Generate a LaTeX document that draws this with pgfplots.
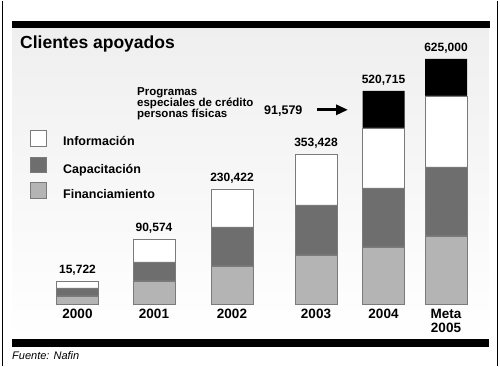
\documentclass[border=0pt]{standalone}
\usepackage{pgfplots}
\pgfplotsset{compat=1.18}
\usepackage{fontspec}
\setmainfont{Liberation Sans}
\usetikzlibrary{arrows.meta}
\definecolor{lightg}{HTML}{B4B4B4}
\definecolor{darkg}{HTML}{6E6E6E}
\definecolor{edgeg}{HTML}{7A7A7A}
\definecolor{panel}{HTML}{EFEFEF}
\pgfplotsset{base/.style={
  at={(0,62)}, anchor=origin,
  width=500pt, height=365pt, scale only axis,
  xmin=0, xmax=500, ymin=-62, ymax=303,
  clip=false}}
\begin{document}
\begin{tikzpicture}[x=1pt,y=1pt]
% background (1pt = 1px of the reference; y measured upward from picture bottom)
\fill[white] (0,0) rectangle (500,365);
\shade[top color=panel, middle color=panel, bottom color=white] (12,27) rectangle (489,338);
\fill[black] (12,338) rectangle (490,345);
\fill[black] (12,19) rectangle (489,27);
\draw[black, line width=1.6pt] (2.5,0) -- (2.5,365);
\draw[black, line width=1.6pt] (497.5,0) -- (497.5,365);
\begin{axis}[
  base,
  axis x line=middle, axis y line=none,
  axis line style={draw=none},
  tick style={draw=none},
  ytick=\empty,
  xtick={77.5,154,232,316,383.5,446},
  xticklabels={2000,2001,2002,2003,2004,{Meta\\2005}},
  xticklabel style={align=center, font=\fontsize{13.5}{14}\selectfont\bfseries, anchor=north, yshift=0pt},
  ybar stacked, bar width=42,
]
\addplot[fill=lightg, draw=edgeg] table {
x y
77.5 8
154 23
232 38
316 49
383.5 57
446 68
};
\addplot[fill=darkg, draw=edgeg] table {
x y
77.5 8
154 19
232 39
316 50
383.5 59
446 69
};
\addplot[fill=white, draw=edgeg] table {
x y
77.5 7
154 23
232 38
316 51
383.5 60
446 71
};
\addplot[fill=black, draw=none] table {
x y
77.5 0
154 0
232 0
316 0
383.5 37
446 37
};
\end{axis}
\begin{axis}[base, hide axis]
\addplot[draw=none, mark=none,
  point meta=explicit symbolic,
  nodes near coords,
  nodes near coords style={anchor=base, font=\fontsize{12}{12}\selectfont\bfseries, inner sep=0pt, yshift=7pt}]
  table[meta=label] {
x y label
77.5 23 15,722
154 65 90,574
232 115 230,422
316 150 353,428
383.5 213 520,715
446 245 625,000
};
\end{axis}
% texts and legend (pixel coordinates, y upward)
\node[anchor=base west, font=\fontsize{11}{11}\selectfont\itshape, inner sep=0pt] at (12,6) {Fuente: Nafin};
\node[anchor=base west, font=\fontsize{17.5}{17.5}\selectfont\bfseries, inner sep=0pt] at (20,317) {Clientes apoyados};
\draw[edgeg, fill=white] (30,220) rectangle (46,236);
\draw[edgeg, fill=darkg] (30,194) rectangle (46,209);
\draw[edgeg, fill=lightg] (30,168) rectangle (46,184);
\node[anchor=base west, font=\fontsize{12.5}{12.5}\selectfont\bfseries, inner sep=0pt] at (63,220) {Información};
\node[anchor=base west, font=\fontsize{12.5}{12.5}\selectfont\bfseries, inner sep=0pt] at (63,192) {Capacitación};
\node[anchor=base west, font=\fontsize{12.5}{12.5}\selectfont\bfseries, inner sep=0pt] at (63,167) {Financiamiento};
\node[anchor=base west, font=\fontsize{11.5}{11.5}\selectfont\bfseries, inner sep=0pt] at (137,270) {Programas};
\node[anchor=base west, font=\fontsize{11.5}{11.5}\selectfont\bfseries, inner sep=0pt] at (137,259) {especiales de crédito};
\node[anchor=base west, font=\fontsize{11.5}{11.5}\selectfont\bfseries, inner sep=0pt] at (137,248) {personas físicas};
\node[anchor=base west, font=\fontsize{12.5}{12.5}\selectfont\bfseries, inner sep=0pt] at (264,251) {91,579};
\draw[black, line width=3pt, -{Triangle[length=12pt,width=10pt]}] (317,256) -- (348,256);
\useasboundingbox (0,0) rectangle (500,365);
\end{tikzpicture}
\end{document}
